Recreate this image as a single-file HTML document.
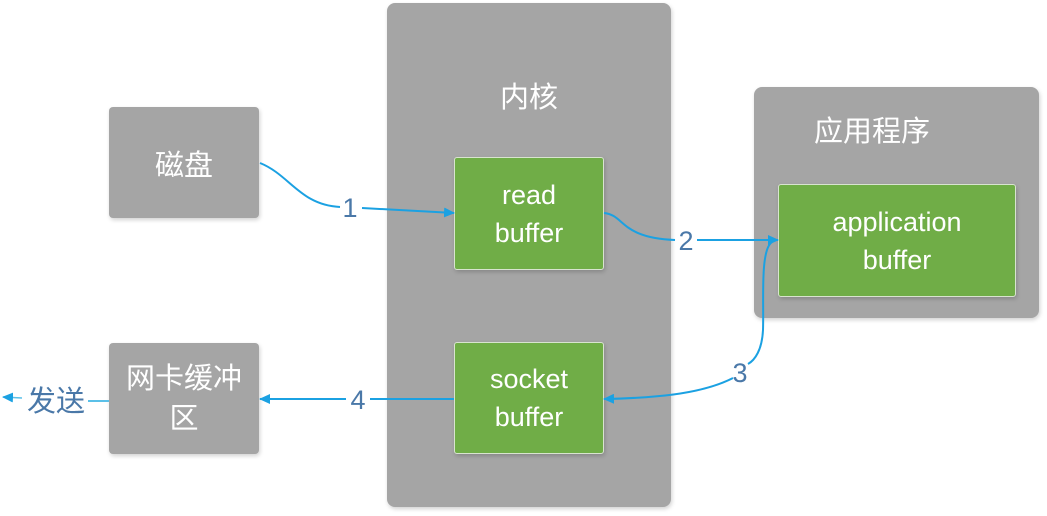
<!DOCTYPE html>
<html><head><meta charset="utf-8"><style>
body{margin:0;width:1047px;height:516px;background:#fff;overflow:hidden;font-family:"Liberation Sans","Noto Sans CJK SC",sans-serif}
.b{position:absolute;border-radius:6px;color:#fff;display:flex;align-items:center;justify-content:center;text-align:center;box-shadow:1px 2px 4px rgba(0,0,0,.18)}
.g{background:#a5a5a5}.gr{background:#70ad47;border:1px solid #d8e4cf;box-sizing:border-box;font-size:27px;line-height:38px;border-radius:3px}
</style></head><body>
<div class="b g" style="left:387px;top:3px;width:284px;height:504px;border-radius:8px"></div>
<div style="position:absolute;left:387px;top:74px;width:284px;text-align:center;color:#fff;font-size:29px">内核</div>
<div class="b g" style="left:754px;top:87px;width:285px;height:231px;border-radius:8px"></div>
<div style="position:absolute;left:754px;top:108px;width:236px;text-align:center;color:#fff;font-size:29px">应用程序</div>
<div class="b g" style="left:109px;top:107px;width:150px;height:111px;font-size:29px;border-radius:4px">磁盘</div>
<div class="b g" style="left:109px;top:343px;width:150px;height:111px;font-size:29px;line-height:40px;border-radius:4px">网卡缓冲<br>区</div>
<div class="b gr" style="left:454px;top:157px;width:150px;height:113px">read<br>buffer</div>
<div class="b gr" style="left:454px;top:342px;width:150px;height:112px">socket<br>buffer</div>
<div class="b gr" style="left:778px;top:184px;width:238px;height:113px">application<br>buffer</div>
<svg width="1047" height="516" style="position:absolute;left:0;top:0">
<defs><marker id="a" markerWidth="11" markerHeight="10" refX="10" refY="5" orient="auto" markerUnits="userSpaceOnUse"><path d="M0,0L11,5L0,10z" fill="#1ba1e2"/></marker></defs>
<g fill="none" stroke="#1ba1e2" stroke-width="2">
<path d="M260,163 C290,175 300,205 340,207"/><path d="M362,208 L454,213" marker-end="url(#a)"/>
<path d="M604,213 C625,215 620,238 675,240"/><path d="M697,240 L778,240" marker-end="url(#a)"/>
<path d="M772,242 C760,250 764,300 763,330 C762,350 755,360 748,364"/>
<path d="M733,378 C700,395 650,398 604,399" marker-end="url(#a)"/>
<path d="M454,399 L370,399"/><path d="M346,399 L260,399" marker-end="url(#a)"/>
<path d="M109,401 L88,401" stroke="#5bc0e8"/><path d="M22,398 L3,397" stroke="#5bc0e8" stroke-width="1.5" marker-end="url(#a)"/>
</g>
<g fill="#4a78a8" font-size="27" font-family="Liberation Sans,Noto Sans CJK SC,sans-serif" text-anchor="middle">
<text x="350" y="217">1</text><text x="686" y="250">2</text><text x="740" y="382">3</text><text x="358" y="409">4</text>
<text x="56" y="411" font-size="29">发送</text>
</g>
</svg>
</body></html>
